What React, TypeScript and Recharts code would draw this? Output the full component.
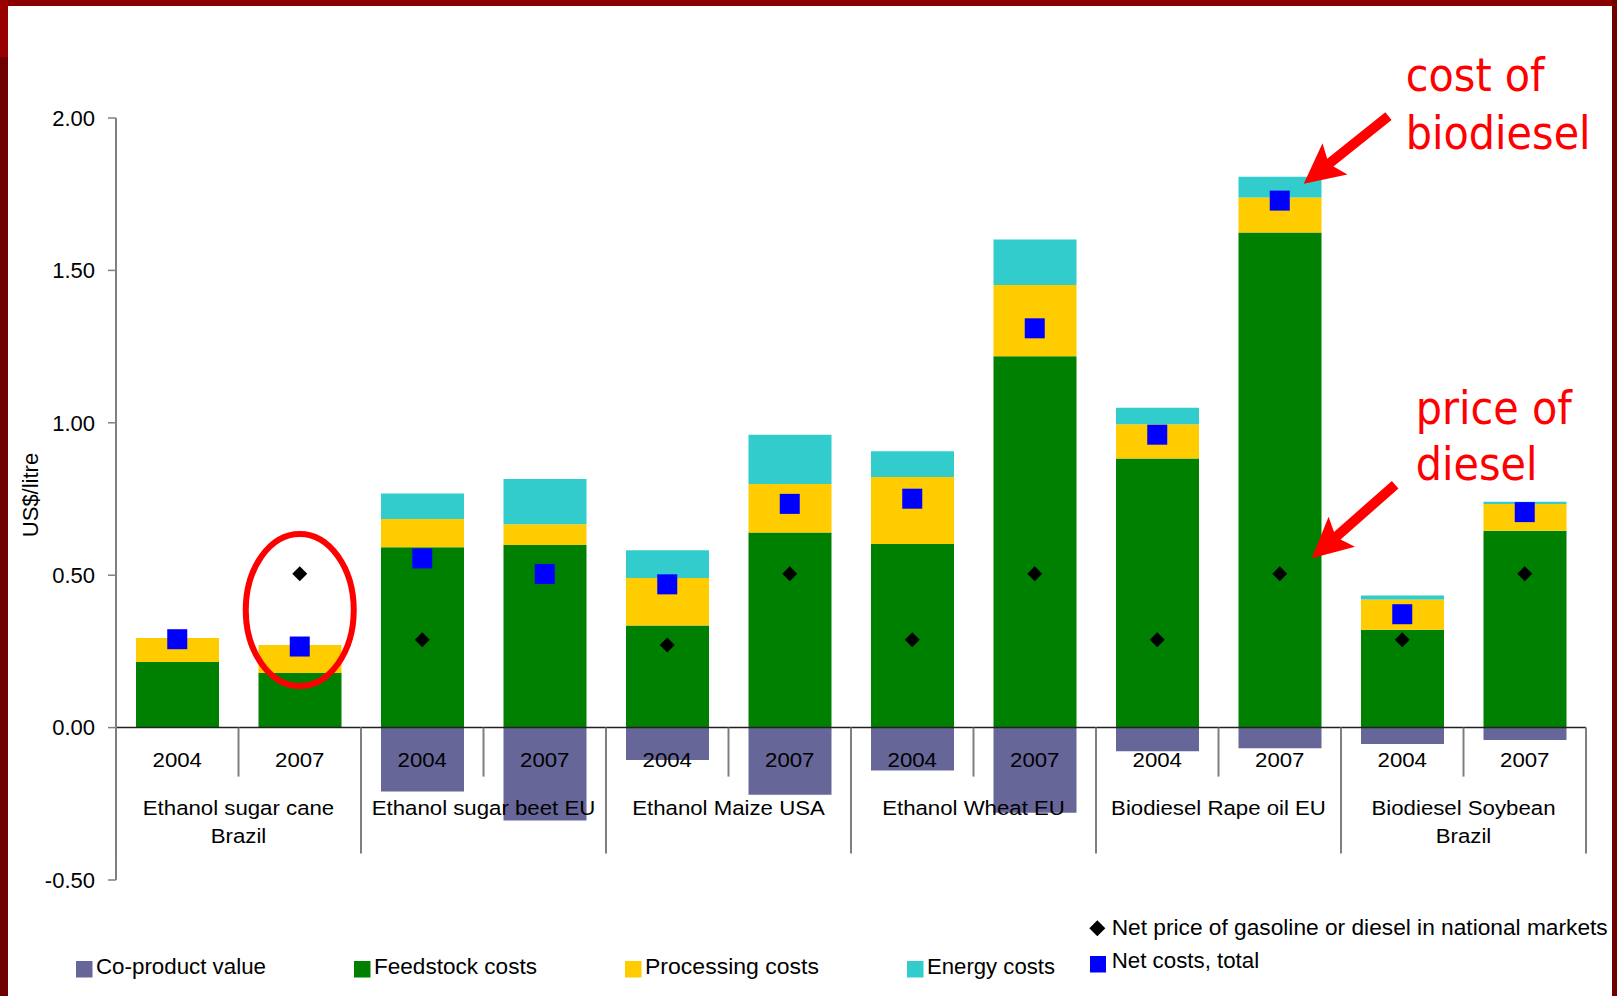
import React from 'react'
import {
  Bar,
  ComposedChart,
  ReferenceDot,
  ReferenceLine,
  Scatter,
  XAxis,
  YAxis,
} from 'recharts'

// one entry per bar: feedstock / year
const ids = [
  'cane-04', 'cane-07', 'beet-04', 'beet-07', 'maize-04', 'maize-07',
  'wheat-04', 'wheat-07', 'rape-04', 'rape-07', 'soy-04', 'soy-07',
]
const years = ['2004', '2007', '2004', '2007', '2004', '2007', '2004', '2007', '2004', '2007', '2004', '2007']
const groupLabels = [
  ['Ethanol sugar cane', 'Brazil'],
  ['Ethanol sugar beet EU'],
  ['Ethanol Maize USA'],
  ['Ethanol Wheat EU'],
  ['Biodiesel Rape oil EU'],
  ['Biodiesel Soybean', 'Brazil'],
]

// US$/litre
const coProduct = [0, 0, -0.21, -0.305, -0.106, -0.22, -0.141, -0.279, -0.078, -0.068, -0.054, -0.041]
const feedstock = [0.215, 0.179, 0.592, 0.599, 0.335, 0.64, 0.602, 1.218, 0.883, 1.624, 0.321, 0.646]
const processing = [0.079, 0.092, 0.092, 0.068, 0.156, 0.159, 0.22, 0.234, 0.112, 0.115, 0.099, 0.088]
const energy = [0, 0, 0.084, 0.149, 0.091, 0.162, 0.085, 0.149, 0.054, 0.068, 0.013, 0.007]
const netCosts = [0.29, 0.266, 0.555, 0.504, 0.47, 0.734, 0.751, 1.31, 0.961, 1.729, 0.372, 0.707]
const netPrice = [0.29, 0.505, 0.288, 0.505, 0.271, 0.505, 0.288, 0.505, 0.288, 0.505, 0.288, 0.505]
const yTicks = [-0.5, 0, 0.5, 1, 1.5, 2]

const data = ids.map((id, i) => ({
  id,
  year: years[i],
  coProduct: coProduct[i],
  feedstock: feedstock[i],
  processing: processing[i],
  energy: energy[i],
  netCosts: netCosts[i],
  netPrice: netPrice[i],
}))

const W = 1617
const H = 996
const MARGIN = { top: 118, right: 31, bottom: 116, left: 0 }
const Y_AXIS_W = 116
const SLOT = (W - MARGIN.left - MARGIN.right - Y_AXIS_W) / ids.length

const FONT = '"Liberation Sans", Arial, sans-serif'
const COLORS = {
  coProduct: '#666699',
  feedstock: '#008000',
  processing: '#FFCC00',
  energy: '#33CCCC',
  netCosts: '#0000FF',
  netPrice: '#000000',
  note: '#FF0000',
}

// axis text in the original is drawn a little wider than plain Arial
const Wide = ({ x, y, children }: { x: number; y: number; children: React.ReactNode }) => (
  <text
    transform={`translate(${x},${y}) scale(1.14,1)`}
    textAnchor="middle"
    fontFamily={FONT}
    fontSize={19.5}
    fill="#000"
  >
    {children}
  </text>
)

// year label plus the divider lines under the zero line
const categoryLabel = (i: number) => (props: any) => {
  const { cx, cy } = props
  const right = cx + SLOT / 2
  const groupEnd = i % 2 === 1
  const group = groupLabels[Math.floor(i / 2)]
  return (
    <g>
      {i === 0 && (
        <line x1={cx - SLOT / 2} x2={cx - SLOT / 2} y1={cy} y2={cy + 126} stroke="#7f7f7f" strokeWidth={2} />
      )}
      <line x1={right} x2={right} y1={cy} y2={cy + (groupEnd ? 126 : 49)} stroke="#7f7f7f" strokeWidth={2} />
      <Wide x={cx} y={cy + 39}>{years[i]}</Wide>
      {groupEnd &&
        group.map((line, k) => (
          <Wide key={k} x={cx - SLOT / 2} y={cy + 87.5 + k * 28.3}>
            {line}
          </Wide>
        ))}
    </g>
  )
}

const square = (props: any) => (
  <rect x={props.cx - 10} y={props.cy - 10} width={20} height={20} fill={COLORS.netCosts} />
)

const diamond = (props: any) => {
  const { cx, cy } = props
  const r = 7.5
  return (
    <polygon
      points={`${cx},${cy - r} ${cx + r},${cy} ${cx},${cy + r} ${cx - r},${cy}`}
      fill={COLORS.netPrice}
    />
  )
}

// swept arrow head pointing at (tx, ty), tail towards (dx, dy)
const arrowPoints = (tx: number, ty: number, dx: number, dy: number) => {
  const len = Math.hypot(dx, dy)
  const ux = dx / len
  const uy = dy / len
  const nx = -uy
  const ny = ux
  const p = (a: number, b: number) => `${tx + ux * a + nx * b},${ty + uy * a + ny * b}`
  return [p(0, 0), p(40, 20), p(34, 5), p(len, 5), p(len, -5), p(34, -5), p(40, -20)].join(' ')
}

const NoteText = ({ x, y, children }: { x: number; y: number; children: React.ReactNode }) => (
  <text
    transform={`translate(${x},${y}) scale(0.9,1)`}
    fontFamily='"DejaVu Sans", Verdana, sans-serif'
    fontSize={46}
    fill={COLORS.note}
  >
    {children}
  </text>
)

const costNote = (props: any) => {
  const tx = props.cx + 24
  const ty = props.cy
  return (
    <g>
      <polygon points={arrowPoints(tx, ty, 84.7, -67.7)} fill={COLORS.note} />
      <NoteText x={tx + 102} y={ty - 92.7}>cost of</NoteText>
      <NoteText x={tx + 102} y={ty - 34.4}>biodiesel</NoteText>
    </g>
  )
}

const priceNote = (props: any) => {
  const tx = props.cx + 32
  const ty = props.cy
  return (
    <g>
      <polygon points={arrowPoints(tx, ty, 83.4, -73.3)} fill={COLORS.note} />
      <NoteText x={tx + 104} y={ty - 134}>price of</NoteText>
      <NoteText x={tx + 104} y={ty - 78}>diesel</NoteText>
    </g>
  )
}

const circled = (props: any) => (
  <ellipse cx={props.cx} cy={props.cy} rx={54} ry={76} fill="none" stroke={COLORS.note} strokeWidth={6} />
)

const legendBoxes = [
  { label: 'Co-product value', color: COLORS.coProduct, x: 76, span: 170 },
  { label: 'Feedstock costs', color: COLORS.feedstock, x: 354, span: 163 },
  { label: 'Processing costs', color: COLORS.processing, x: 625, span: 174 },
  { label: 'Energy costs', color: COLORS.energy, x: 907, span: 128 },
]

const Overlay = () => (
  <svg width={W} height={H} style={{ position: 'absolute', left: 0, top: 0, pointerEvents: 'none' }}>
    <text
      transform="translate(38,495) rotate(-90)"
      textAnchor="middle"
      fontFamily={FONT}
      fontSize={22}
      fill="#000"
    >
      US$/litre
    </text>
    {legendBoxes.map((item) => (
      <g key={item.label}>
        <rect x={item.x} y={961} width={16.5} height={16.5} fill={item.color} />
        <text
          x={item.x + 20}
          y={974}
          fontFamily={FONT}
          fontSize={22}
          fill="#000"
          textLength={item.span}
          lengthAdjust="spacingAndGlyphs"
        >
          {item.label}
        </text>
      </g>
    ))}
    <polygon points="1097.3,920.3 1105.3,928.3 1097.3,936.3 1089.3,928.3" fill={COLORS.netPrice} />
    <text
      x={1111.7}
      y={935}
      fontFamily={FONT}
      fontSize={22}
      fill="#000"
      textLength={496}
      lengthAdjust="spacingAndGlyphs"
    >
      Net price of gasoline or diesel in national markets
    </text>
    <rect x={1090} y={956} width={16} height={16.5} fill={COLORS.netCosts} />
    <text
      x={1111.7}
      y={968}
      fontFamily={FONT}
      fontSize={22}
      fill="#000"
      textLength={147.5}
      lengthAdjust="spacingAndGlyphs"
    >
      Net costs, total
    </text>
  </svg>
)

export default function App() {
  return (
    <div style={{ position: 'relative', width: W, height: H, background: '#fff', overflow: 'hidden' }}>
      <style>{'body{margin:0}'}</style>
      <ComposedChart width={W} height={H} data={data} margin={MARGIN} stackOffset="sign" barSize={83}>
        <XAxis dataKey="id" hide />
        <YAxis
          domain={[-0.5, 2]}
          ticks={yTicks}
          width={Y_AXIS_W}
          tickFormatter={(v: number) => v.toFixed(2)}
          tick={{ fill: '#000', fontSize: 22, fontFamily: FONT }}
          tickSize={8}
          tickMargin={13}
          axisLine={{ stroke: '#808080', strokeWidth: 2 }}
          tickLine={{ stroke: '#808080', strokeWidth: 1.5 }}
          interval={0}
        />
        <Bar dataKey="coProduct" stackId="cost" fill={COLORS.coProduct} isAnimationActive={false} />
        <Bar dataKey="feedstock" stackId="cost" fill={COLORS.feedstock} isAnimationActive={false} />
        <Bar dataKey="processing" stackId="cost" fill={COLORS.processing} isAnimationActive={false} />
        <Bar dataKey="energy" stackId="cost" fill={COLORS.energy} isAnimationActive={false} />
        <ReferenceLine y={0} stroke="#222" strokeWidth={1.5} />
        {ids.map((id, i) => (
          <ReferenceDot key={id} x={id} y={0} r={0} shape={categoryLabel(i)} />
        ))}
        <Scatter dataKey="netPrice" shape={diamond} isAnimationActive={false} />
        <Scatter dataKey="netCosts" shape={square} isAnimationActive={false} />
        <ReferenceDot x="cane-07" y={0.386} r={0} shape={circled} />
        <ReferenceDot x="rape-07" y={1.784} r={0} shape={costNote} />
        <ReferenceDot x="rape-07" y={0.556} r={0} shape={priceNote} />
      </ComposedChart>
      <Overlay />
      {/* slide frame */}
      <div style={{ position: 'absolute', left: 0, top: 0, width: W, height: 6, background: '#8a0000' }} />
      <div style={{ position: 'absolute', left: 0, top: 0, width: 8, height: H, background: '#700000' }} />
      <div style={{ position: 'absolute', left: 0, top: 0, width: 8, height: 57, background: '#990000' }} />
      <div style={{ position: 'absolute', right: 0, top: 0, width: 5, height: H, background: '#700000' }} />
    </div>
  )
}
